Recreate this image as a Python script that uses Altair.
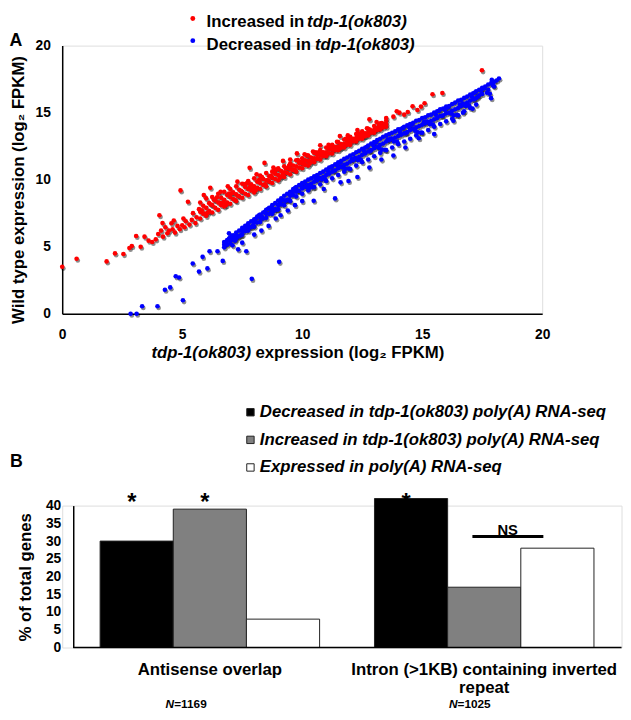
import altair as alt
import pandas as pd

FONT = "Liberation Sans"

# ---------------- Panel A data ----------------
series_a = ["Increased in tdp-1(ok803)", "Decreased in tdp-1(ok803)"]
legend_a_prefix = ["Increased in", "Decreased in"]
gene_label = "tdp-1(ok803)"

red_sparse = [(0.0,3.5),(0.6,4.1),(1.85,3.9),(2.2,4.5),(2.55,4.45),(2.8,4.9),(2.9,5.05),(3.08,5.8),(3.27,5.0),
    (3.43,5.75),(3.6,5.45),(3.75,5.35),(3.9,5.55),(4.0,5.95),(4.05,7.35),(4.12,6.2),(4.2,5.75),(4.3,6.45),
    (4.38,6.0),(4.45,6.2),(4.55,6.75),(4.6,6.3),(4.7,6.05),(4.8,6.55),(4.9,6.3),(4.93,9.2),(5.0,6.6),(5.1,6.45),
    (5.15,6.9),(5.24,8.35),(5.3,6.65),(5.4,7.0),(5.45,7.5),(5.55,6.76),(5.6,7.2),(5.7,7.8),(5.9,8.85),(6.17,9.4),
    (6.6,9.1),(6.9,9.5),(7.3,9.85),(7.81,10.88),(8.1,10.4),(8.43,11.25),(8.8,10.9),(9.2,11.4),(9.5,11.5),
    (9.78,11.96),(10.1,11.9),(10.45,12.1),(10.75,12.57),(11.1,12.6),(11.57,13.26),(11.9,13.3),(12.3,13.7),
    (12.8,14.5),(13.1,14.3),(13.5,14.6),(13.8,14.7),(13.94,15.1),(14.05,15.0),(14.25,14.85),(14.4,15.05),
    (14.6,15.47),(14.8,15.2),(14.95,15.45),(15.1,15.7),(15.43,16.37),(15.84,16.47),(17.49,18.16),
    (4.18,6.76),(4.65,6.95),(5.05,7.1)]
red_band = [(5.75,7.1),(5.75,7.6),(5.75,8.3),(6.0,7.3),(6.0,7.9),(6.0,8.6),(6.25,7.55),(6.25,8.1),(6.25,8.7),
    (6.5,7.75),(6.5,8.3),(6.5,8.95),(6.75,8.0),(6.75,8.5),(6.75,9.1),(7.0,8.2),(7.0,8.7),(7.0,9.3),
    (7.25,8.4),(7.25,8.9),(7.25,9.5),(7.5,8.65),(7.5,9.1),(7.5,9.7),(7.75,8.85),(7.75,9.3),(7.75,9.9),
    (8.0,9.05),(8.0,9.5),(8.0,10.1),(8.25,9.3),(8.25,9.75),(8.25,10.3),(8.5,9.5),(8.5,9.95),(8.5,10.5),
    (8.75,9.75),(8.75,10.15),(8.75,10.6),(9.0,9.95),(9.0,10.35),(9.0,10.85),(9.25,10.2),(9.25,10.55),(9.25,11.0),
    (9.5,10.4),(9.5,10.8),(9.5,11.2),(9.75,10.6),(9.75,11.0),(9.75,11.45),(10.0,10.85),(10.0,11.2),(10.0,11.6),
    (10.25,11.05),(10.25,11.4),(10.25,11.8),(10.5,11.3),(10.5,11.6),(10.5,12.0),(10.75,11.5),(10.75,11.8),(10.75,12.2),
    (11.0,11.75),(11.0,12.05),(11.0,12.4),(11.25,11.95),(11.25,12.25),(11.25,12.6),(11.5,12.2),(11.5,12.45),(11.5,12.8),
    (11.75,12.4),(11.75,12.65),(11.75,13.0),(12.0,12.6),(12.0,12.85),(12.0,13.2),(12.25,12.85),(12.25,13.1),(12.25,13.4),
    (12.5,13.05),(12.5,13.3),(12.5,13.6),(12.75,13.3),(12.75,13.5),(12.75,13.8),(13.0,13.5),(13.0,13.7),(13.0,14.0),
    (13.25,13.75),(13.25,13.95),(13.25,14.2),(13.5,13.95),(13.5,14.15),(13.5,14.4),
    (5.875,7.45),(5.875,8.05),(6.125,7.65),(6.125,8.25),(6.375,7.9),(6.375,8.45),(6.625,8.1),(6.625,8.65),
    (6.875,8.3),(6.875,8.85),(7.125,8.55),(7.125,9.05),(7.375,8.75),(7.375,9.25),(7.625,8.95),(7.625,9.45),
    (7.875,9.2),(7.875,9.65),(8.125,9.4),(8.125,9.85),(8.375,9.6),(8.375,10.05),(8.625,9.85),(8.625,10.25),
    (8.875,10.05),(8.875,10.45),(9.125,10.25),(9.125,10.65),(9.375,10.5),(9.375,10.85),(9.625,10.7),(9.625,11.05),
    (9.875,10.9),(9.875,11.25),(10.125,11.1),(10.125,11.45),(10.375,11.35),(10.375,11.65),(10.625,11.55),(10.625,11.85),
    (10.875,11.75),(10.875,12.05),(11.125,11.95),(11.125,12.25),(11.375,12.2),(11.375,12.45),(11.625,12.4),(11.625,12.65),
    (11.875,12.6),(11.875,12.85),(12.125,12.85),(12.125,13.05),(12.375,13.05),(12.375,13.25),(12.625,13.25),(12.625,13.45),
    (12.875,13.5),(12.875,13.65),(13.125,13.7),(13.125,13.85),(13.375,13.9),(13.375,14.1),
    (5.95,7.48),(6.2,8.15),(6.45,8.68),(6.7,8.3),(6.95,8.97),(7.2,8.49),(7.45,9.16),(7.7,9.74),(7.95,9.31),
    (8.2,9.98),(8.45,9.65),(8.7,10.28),(8.95,10.75),(9.2,10.47),(9.45,11.04),(9.7,10.71),(9.95,11.34),(10.2,11.81),
    (10.45,11.53),(10.7,12.05),(10.95,11.83),(11.2,12.4),(11.45,12.82),(11.7,12.59),(11.95,13.11),(12.2,12.94),
    (12.45,13.46),(12.7,13.83),(12.95,13.65),(13.2,14.08),(13.45,14.15),
    (5.82,7.72),(6.07,7.54),(6.32,8.51),(6.57,8.28),(6.82,8.1),(7.07,8.98),(7.32,8.8),(7.57,9.67),(7.82,9.44),
    (8.07,9.22),(8.32,10.19),(8.57,9.96),(8.82,10.73),(9.07,10.15),(9.32,10.83),(9.57,10.75),(9.82,11.47),(10.07,11.29),
    (10.32,11.22),(10.57,12.04),(10.82,11.91),(11.07,12.38),(11.32,12.31),(11.57,12.33),(11.82,13.05),(12.07,13.02),
    (12.32,13.44),(12.57,13.22),(12.82,13.74),(13.07,13.81),(13.32,14.23)]

blue_sparse = [(2.85,0.0),(3.1,0.0),(3.33,0.56),(3.97,0.56),(4.28,1.79),(4.5,1.96),(4.73,2.79),(4.87,2.7),(5.03,1.0),
    (5.44,3.75),(5.7,3.14),(5.85,4.24),(6.05,3.38),(6.14,4.66),(6.47,4.66),(6.69,3.94),(6.78,5.29),(7.33,4.8),
    (7.67,4.66),(7.9,2.6),(9.04,3.87),(7.1,5.1),(7.5,5.3),(8.0,5.9),(8.3,6.2),(8.6,6.55),(8.9,7.1),(9.1,7.35),
    (9.4,7.7),(9.7,8.1),(10.0,8.4),(10.48,8.43),(11.37,8.6),(11.93,9.9),(10.9,9.3),(11.6,9.8),(12.3,10.2),
    (12.8,10.9),(13.3,11.5),(13.8,11.8),(14.86,13.09),(14.3,12.4),(15.5,13.4),(16.3,14.4),(16.7,15.0),(17.1,15.3),
    (17.17,16.0),(17.87,16.08),(18.2,17.55),(17.9,17.45),(6.95,6.0),(7.2,5.45)]
blue_band = [(6.75,5.35),(6.75,5.15),(6.75,4.95),(7.0,5.7),(7.0,5.5),(7.0,5.25),(7.25,6.05),(7.25,5.85),(7.25,5.6),
    (7.5,6.4),(7.5,6.15),(7.5,5.9),(7.75,6.75),(7.75,6.5),(7.75,6.2),(8.0,7.05),(8.0,6.8),(8.0,6.5),
    (8.25,7.4),(8.25,7.15),(8.25,6.85),(8.5,7.75),(8.5,7.45),(8.5,7.15),(8.75,8.1),(8.75,7.8),(8.75,7.45),
    (9.0,8.45),(9.0,8.1),(9.0,7.8),(9.25,8.8),(9.25,8.45),(9.25,8.1),(9.5,9.1),(9.5,8.8),(9.5,8.4),
    (9.75,9.45),(9.75,9.1),(9.75,8.75),(10.0,9.75),(10.0,9.35),(10.0,8.95),(10.25,10.0),(10.25,9.6),(10.25,9.2),
    (10.5,10.25),(10.5,9.85),(10.5,9.45),(10.75,10.5),(10.75,10.1),(10.75,9.65),(11.0,10.75),(11.0,10.35),(11.0,9.9),
    (11.25,11.0),(11.25,10.6),(11.25,10.1),(11.5,11.3),(11.5,10.85),(11.5,10.35),(11.75,11.55),(11.75,11.1),(11.75,10.6),
    (12.0,11.8),(12.0,11.35),(12.0,10.8),(12.25,12.05),(12.25,11.6),(12.25,11.05),(12.5,12.3),(12.5,11.85),(12.5,11.3),
    (12.75,12.55),(12.75,12.1),(12.75,11.5),(13.0,12.8),(13.0,12.35),(13.0,11.75),(13.25,13.05),(13.25,12.6),(13.25,12.0),
    (13.5,13.3),(13.5,12.85),(13.5,12.2),(13.75,13.5),(13.75,13.05),(13.75,12.4),(14.0,13.75),(14.0,13.25),(14.0,12.65),
    (14.25,13.95),(14.25,13.45),(14.25,12.85),(14.5,14.15),(14.5,13.7),(14.5,13.05),(14.75,14.4),(14.75,13.9),(14.75,13.3),
    (15.0,14.6),(15.0,14.1),(15.0,13.5),(15.25,14.8),(15.25,14.3),(15.25,13.7),(15.5,15.0),(15.5,14.5),(15.5,13.95),
    (15.75,15.25),(15.75,14.75),(15.75,14.15),(16.0,15.45),(16.0,14.95),(16.0,14.35),(16.25,15.65),(16.25,15.15),(16.25,14.55),
    (16.5,15.9),(16.5,15.35),(16.5,14.8),(16.75,16.1),(16.75,15.6),(16.75,15.1),(17.0,16.35),(17.0,15.9),(17.0,15.35),
    (17.25,16.6),(17.25,16.1),(17.25,15.6),(17.5,16.85),(17.5,16.4),(17.75,17.1),(17.75,16.7),(18.0,17.3),(18.0,16.95),
    (6.875,5.5),(6.875,5.15),(7.125,5.85),(7.125,5.5),(7.375,6.2),(7.375,5.8),(7.625,6.55),(7.625,6.15),
    (7.875,6.9),(7.875,6.45),(8.125,7.25),(8.125,6.8),(8.375,7.55),(8.375,7.1),(8.625,7.9),(8.625,7.45),
    (8.875,8.25),(8.875,7.8),(9.125,8.6),(9.125,8.15),(9.375,8.95),(9.375,8.5),(9.625,9.3),(9.625,8.85),
    (9.875,9.6),(9.875,9.15),(10.125,9.85),(10.125,9.45),(10.375,10.1),(10.375,9.7),(10.625,10.35),(10.625,9.95),
    (10.875,10.6),(10.875,10.2),(11.125,10.9),(11.125,10.45),(11.375,11.15),(11.375,10.7),(11.625,11.4),(11.625,10.95),
    (11.875,11.65),(11.875,11.2),(12.125,11.9),(12.125,11.45),(12.375,12.15),(12.375,11.7),(12.625,12.4),(12.625,11.95),
    (12.875,12.7),(12.875,12.2),(13.125,12.95),(13.125,12.45),(13.375,13.2),(13.375,12.7),(13.625,13.4),(13.625,12.95),
    (13.875,13.6),(13.875,13.15),(14.125,13.8),(14.125,13.35),(14.375,14.05),(14.375,13.55),(14.625,14.25),(14.625,13.8),
    (14.875,14.45),(14.875,14.0),(15.125,14.65),(15.125,14.2),(15.375,14.85),(15.375,14.4),(15.625,15.1),(15.625,14.6),
    (15.875,15.3),(15.875,14.8),(16.125,15.5),(16.125,15.0),(16.375,15.75),(16.375,15.25),(16.625,15.95),(16.625,15.5),
    (16.875,16.2),(16.875,15.75),(17.125,16.45),(17.125,16.0),(17.375,16.7),(17.375,16.3),(17.625,16.95),(17.875,17.2),(18.1,17.4),
    (6.95,5.6),(7.2,5.71),(7.45,5.86),(7.7,6.49),(7.95,6.59),(8.2,7.34),(8.45,7.61),(8.7,7.66),(8.95,7.76),
    (9.2,8.47),(9.45,8.51),(9.7,9.38),(9.95,9.57),(10.2,9.47),(10.45,9.43),(10.7,10.14),(10.95,10.05),(11.2,10.93),
    (11.45,11.08),(11.7,10.91),(11.95,10.83),(12.2,11.62),(12.45,11.46),(12.7,12.46),(12.95,12.6),(13.2,12.36),
    (13.45,12.23),(13.7,13.06),(13.95,12.84),(14.2,13.86),(14.45,13.94),(14.7,13.66),(14.95,13.51),(15.2,14.34),
    (15.45,14.12),(15.7,15.14),(15.95,15.22),(16.2,14.94),(16.45,14.83),(16.7,15.68),(16.95,15.54),(17.2,16.5),
    (17.45,16.64),(17.7,16.48),(17.95,17.03),
    (6.82,5.27),(7.07,5.79),(7.32,5.75),(7.57,6.34),(7.82,6.48),(8.07,7.08),(8.32,7.24),(8.57,7.81),(8.82,7.67),
    (9.07,8.33),(9.32,8.42),(9.57,9.08),(9.82,9.19),(10.07,9.74),(10.32,9.4),(10.57,10.05),(10.82,10.01),(11.07,10.65),
    (11.32,10.65),(11.57,11.26),(11.82,10.81),(12.07,11.54),(12.32,11.46),(12.57,12.16),(12.82,12.12),(13.07,12.78),
    (13.32,12.24),(13.57,13.01),(13.82,12.85),(14.07,13.56),(14.32,13.47),(14.57,14.11),(14.82,13.53),(15.07,14.29),
    (15.32,14.13),(15.57,14.84),(15.82,14.75),(16.07,15.39),(16.32,14.81),(16.57,15.6),(16.82,15.5),(17.07,16.21),
    (17.32,16.19),(17.57,16.81),(17.82,16.41)]

axis_ticks_a = [0, 5, 10, 15, 20]

# ---------------- Panel B data ----------------
categories = ["Antisense overlap", "Intron (>1KB) containing inverted repeat"]
category_lines = ["Antisense overlap", "Intron (>1KB) containing inverted\nrepeat"]
n_values = ["=1169", "=1025"]
series_b = ["Decreased in tdp-1(ok803) poly(A) RNA-seq",
            "Increased in tdp-1(ok803) poly(A) RNA-seq",
            "Expressed in poly(A) RNA-seq"]
antisense_values = [30, 39, 8]
intron_values = [42, 17, 28]
antisense_star = [True, True, False]
intron_star = [True, False, False]
ns_text = "NS"
axis_ticks_b = [0, 5, 10, 15, 20, 25, 30, 35, 40]
colors_b = ["#000000", "#808080", "#ffffff"]
colors_a = ["#ff0000", "#0000ff"]

# ---------------- Panel A chart ----------------
rows = []
for x, y in red_sparse + red_band:
    rows.append({"x": x, "y": y, "g": series_a[0]})
for x, y in blue_sparse + blue_band:
    rows.append({"x": x, "y": y, "g": series_a[1]})
df_a = pd.DataFrame(rows)

WA, HA = 487, 272
PT = 22
xs = alt.Scale(domain=[0, 20], nice=False)
ys = alt.Scale(domain=[0, 20], nice=False)
common_axis = dict(grid=False, ticks=False, domainColor="black", domainWidth=1.5,
                   labelFont=FONT, labelFontSize=14, labelFontWeight="bold", labelColor="black")

shadow = alt.Chart(df_a).mark_circle(size=PT, opacity=0.45, color="#000000", xOffset=1.2, yOffset=1.8).encode(
    x=alt.X("x:Q", scale=xs, axis=alt.Axis(values=axis_ticks_a, title=None, labelPadding=14,
                                            labelFlush=False, **common_axis)),
    y=alt.Y("y:Q", scale=ys, axis=alt.Axis(values=axis_ticks_a, title="Wild type expression (log₂ FPKM)",
                                            labelPadding=12, titleFont=FONT, titleFontSize=17,
                                            titleFontWeight="bold", titleColor="black", titleX=-44.5,
                                            titleY=146, titleAngle=270, titleBaseline="middle",
                                            titleAlign="center", **common_axis)),
)
points = alt.Chart(df_a).mark_circle(size=PT, opacity=1).encode(
    x="x:Q", y="y:Q",
    color=alt.Color("g:N", scale=alt.Scale(domain=series_a, range=colors_a), legend=None),
)

one = pd.DataFrame({"a": [0]})
layers_a = [shadow, points]
leg_dot_y = [-27.5, -5]
leg_txt_y = [-23.5, -1]
leg_italic_x = [248.5, 256.5]
for i, s in enumerate(series_a):
    layers_a.append(alt.Chart(one).mark_circle(size=24, fill=colors_a[i], opacity=1).encode(
        x=alt.value(132.5), y=alt.value(leg_dot_y[i])))
    layers_a.append(alt.Chart(one).mark_text(text=legend_a_prefix[i], font=FONT, fontSize=17, fontWeight="bold",
                                             align="left", baseline="middle", color="black").encode(
        x=alt.value(146.5), y=alt.value(leg_txt_y[i])))
    layers_a.append(alt.Chart(one).mark_text(text=gene_label, font=FONT, fontSize=17, fontWeight="bold",
                                             fontStyle="italic", align="left", baseline="middle",
                                             color="black").encode(
        x=alt.value(leg_italic_x[i]), y=alt.value(leg_txt_y[i])))
# x-axis title (mixed italic / upright)
layers_a.append(alt.Chart(one).mark_text(text=gene_label, font=FONT, fontSize=17, fontWeight="bold",
                                         fontStyle="italic", align="left", baseline="middle",
                                         color="black").encode(x=alt.value(90.5), y=alt.value(312)))
layers_a.append(alt.Chart(one).mark_text(text="expression (log₂ FPKM)", font=FONT, fontSize=17,
                                         fontWeight="bold", align="left", baseline="middle",
                                         color="black").encode(x=alt.value(196), y=alt.value(312)))
layers_a.append(alt.Chart(one).mark_text(text="A", font=FONT, fontSize=18, fontWeight="bold", align="left",
                                         baseline="middle", color="black").encode(
    x=alt.value(-53.5), y=alt.value(-5)))

chart_a = alt.layer(*layers_a).properties(width=WA, height=HA)

# ---------------- Panel B chart ----------------
rows_b = []
for cat, vals, stars in [(categories[0], antisense_values, antisense_star),
                         (categories[1], intron_values, intron_star)]:
    for s, v, st in zip(series_b, vals, stars):
        rows_b.append({"category": cat, "series": s, "value": v, "star": st})
df_b = pd.DataFrame(rows_b)

WB, HB = 567.5, 144
xb = alt.Scale(domain=categories, paddingInner=0.2, paddingOuter=0.1193, align=0.579)
xo = alt.Scale(domain=series_b, paddingInner=0, paddingOuter=0)
yb = alt.Scale(domain=[0, 40], nice=False)

bars = alt.Chart(df_b).mark_bar(stroke="#222222", strokeWidth=1).encode(
    x=alt.X("category:N", scale=xb, axis=None),
    xOffset=alt.XOffset("series:N", scale=xo),
    y=alt.Y("value:Q", scale=yb, axis=alt.Axis(values=axis_ticks_b, offset=-11.2, title="% of total genes",
                                                labelPadding=12.7, titleFont=FONT, titleFontSize=17,
                                                titleFontWeight="bold", titleColor="black", titleX=-48.7,
                                                titleY=72.3, titleAngle=270, titleBaseline="middle",
                                                titleAlign="center", **common_axis)),
    fill=alt.Fill("series:N", scale=alt.Scale(domain=series_b, range=colors_b), legend=None),
)
stars_layer = alt.Chart(df_b[df_b["star"]]).mark_text(text="*", font=FONT, fontSize=24, fontWeight="bold",
                                                      baseline="alphabetic", dx=-5, color="black").encode(
    x=alt.X("category:N", scale=xb),
    xOffset=alt.XOffset("series:N", scale=xo),
    y=alt.value(4),
)
baseline_rule = alt.Chart(one).mark_rule(color="black", strokeWidth=1.5).encode(
    x=alt.value(11.2), x2=alt.value(WB), y=alt.value(HB))
ns_rule = alt.Chart(one).mark_rule(color="black", strokeWidth=3).encode(
    x=alt.value(416.2), x2=alt.value(488.2), y=alt.value(31.3))
ns_label = alt.Chart(one).mark_text(text=ns_text, font=FONT, fontSize=15, fontWeight="bold",
                                    baseline="alphabetic", color="black").encode(
    x=alt.value(452), y=alt.value(29.5))
df_cat = pd.DataFrame({"category": categories, "label": category_lines})
cat_labels = alt.Chart(df_cat).mark_text(font=FONT, fontSize=17, fontWeight="bold", baseline="alphabetic",
                                         lineBreak="\n", lineHeight=18.5, color="black").encode(
    x=alt.X("category:N", scale=xb), y=alt.value(171.5), text="label:N")

layers_b = [bars, stars_layer, baseline_rule, ns_rule, ns_label, cat_labels]
n_dx = [-44.9, -35.8]
for i, cat in enumerate(categories):
    dfc = pd.DataFrame({"category": [cat], "n": [n_values[i]]})
    layers_b.append(alt.Chart(dfc).mark_text(text="N", font=FONT, fontSize=12, fontWeight="bold",
                                             fontStyle="italic", align="left", baseline="alphabetic",
                                             dx=n_dx[i], color="black").encode(
        x=alt.X("category:N", scale=xb), y=alt.value(205.5)))
    layers_b.append(alt.Chart(dfc).mark_text(font=FONT, fontSize=12, fontWeight="bold", align="left",
                                             baseline="alphabetic", dx=n_dx[i] + 8.7, color="black").encode(
        x=alt.X("category:N", scale=xb), y=alt.value(205.5), text="n:N"))

leg_b_y = [-94.7, -66.7, -38.7]
for i, s in enumerate(series_b):
    layers_b.append(alt.Chart(one).mark_square(size=56, fill=colors_b[i], stroke="#222222", strokeWidth=1,
                                               opacity=1).encode(x=alt.value(191), y=alt.value(leg_b_y[i])))
    layers_b.append(alt.Chart(one).mark_text(text=s, font=FONT, fontSize=17, fontWeight="bold",
                                             fontStyle="italic", align="left", baseline="middle",
                                             color="black").encode(x=alt.value(200.5), y=alt.value(leg_b_y[i])))
layers_b.append(alt.Chart(one).mark_text(text="B", font=FONT, fontSize=18, fontWeight="bold", align="left",
                                         baseline="middle", color="black").encode(
    x=alt.value(-53), y=alt.value(-43.7)))

chart_b = alt.layer(*layers_b).properties(width=WB, height=HB)

chart = alt.vconcat(chart_a, chart_b, spacing=194.7, bounds="flush").resolve_scale(
    color="independent", fill="independent").properties(
    padding=0).configure_view(stroke=None).configure(font=FONT)

chart.save("out.html", embed_options={"renderer": "svg", "actions": False})
